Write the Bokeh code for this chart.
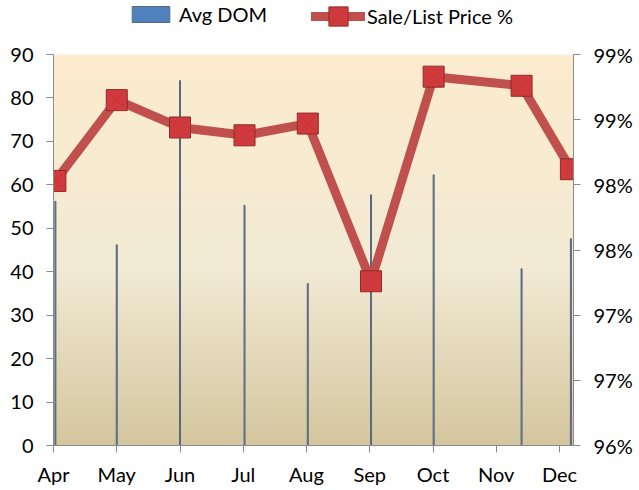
import numpy as np
from bokeh.plotting import figure
from bokeh.models import (Range1d, LinearAxis, FixedTicker, Legend, LegendItem,
                          ColumnDataSource)
from bokeh.embed import file_html
from bokeh.resources import INLINE

# ---- data ----
months = ["Apr", "May", "Jun", "Jul", "Aug", "Sep", "Oct", "Nov", "Dec"]
x_pos = [0.03, 1.0, 2.0, 3.02, 4.02, 5.02, 6.01, 7.4, 8.18]
avg_dom = [56.2, 46.2, 84.0, 55.3, 37.3, 57.7, 62.3, 40.7, 47.6]
sale_list_pct = [98.03, 98.65, 98.44, 98.38, 98.47, 97.26, 98.83, 98.76, 98.12]
left_ticks = [0, 10, 20, 30, 40, 50, 60, 70, 80, 90]
right_ticks = [96.0, 96.5, 97.0, 97.5, 98.0, 98.5, 99.0]
right_labels = ["96%", "97%", "97%", "98%", "98%", "99%", "99%"]

FONT = "Lato"
AX = "#8a8a8a"

FRAME_H = 445.0
PX_PER_UNIT = (445.0 - 54.0) / 90.0
Y_TOP = FRAME_H / PX_PER_UNIT
PCT_TOP = 96 + FRAME_H / ((445.0 - 54.0) / 3.0)

p = figure(width=639, height=490, output_backend="svg", toolbar_location=None,
           title=None,
           x_range=Range1d(0, 8.221), y_range=Range1d(0, Y_TOP),
           min_border_left=53, min_border_right=66, min_border_top=0,
           min_border_bottom=45)
p.outline_line_color = None
p.xgrid.visible = False
p.ygrid.visible = False
p.background_fill_color = "white"
p.border_fill_color = "white"

# background gradient (top peach -> cream -> tan bottom)
n = 200
t = np.linspace(0, 1, n)  # 0 bottom, 1 top
stops_t = [0.0, 0.45, 1.0]
stops_c = [(212, 198, 158), (242, 234, 212), (253, 236, 206)]
rgb = np.stack([np.interp(t, stops_t, [c[i] for c in stops_c]) for i in range(3)], axis=1)
img = np.zeros((n, 1), dtype=np.uint32)
view = img.view(dtype=np.uint8).reshape((n, 1, 4))
view[:, 0, 0] = rgb[:, 0].astype(np.uint8)
view[:, 0, 1] = rgb[:, 1].astype(np.uint8)
view[:, 0, 2] = rgb[:, 2].astype(np.uint8)
view[:, 0, 3] = 255
p.image_rgba(image=[img], x=0, y=0, dw=8.221, dh=90)

src = ColumnDataSource(dict(x=x_pos, dom=avg_dom, pct=sale_list_pct))

bars = p.vbar(x="x", top="dom", bottom=0, width=0.016, source=src,
              fill_color="#4f81bd", line_color="#5a6a7e", line_width=1)

p.extra_y_ranges = {"pct": Range1d(96, PCT_TOP)}
line = p.line("x", "pct", source=src, y_range_name="pct", line_color="#c0504d",
              line_width=9, line_join="round", line_cap="round")
sq = p.scatter("x", "pct", source=src, y_range_name="pct", marker="square",
               size=21, fill_color="#d13a3c", line_color="#8e2a2b", line_width=1)
sqx = p.scatter("x", "pct", source=src, y_range_name="pct", marker="x",
                size=19, line_color="#a02e30", line_alpha=0.3, line_width=1)

def style_axis(ax):
    ax.axis_line_color = AX
    ax.major_tick_line_color = AX
    ax.minor_tick_line_color = None
    ax.major_tick_in = 0
    ax.major_tick_out = 7
    ax.major_label_text_font = FONT
    ax.major_label_text_font_size = "20px"
    ax.major_label_text_color = "#000000"

# left axis
p.yaxis.ticker = FixedTicker(ticks=left_ticks)
p.yaxis.bounds = (0, 90)
style_axis(p.yaxis[0])
p.yaxis.major_label_standoff = 13

# bottom axis
p.xaxis.ticker = FixedTicker(ticks=list(range(len(months))))
p.xaxis.major_label_overrides = {i: m for i, m in enumerate(months)}
style_axis(p.xaxis[0])
p.xaxis.major_label_standoff = 9

# right axis
ra = LinearAxis(y_range_name="pct", ticker=FixedTicker(ticks=right_ticks),
                bounds=(96, 99))
ra.major_label_overrides = {v: l for v, l in zip(right_ticks, right_labels)}
style_axis(ra)
ra.major_label_standoff = 13
p.add_layout(ra, "right")

def style_legend(lg):
    lg.label_text_font = FONT
    lg.label_text_font_size = "20px"
    lg.label_text_color = "#000000"
    lg.label_standoff = 5
    lg.padding = 0
    lg.margin = 0
    lg.border_line_alpha = 0
    lg.background_fill_alpha = 0

leg1 = Legend(items=[LegendItem(label="Avg DOM", renderers=[bars])],
              orientation="horizontal", location=(74, 419))
style_legend(leg1)
leg1.glyph_width = 47
leg1.glyph_height = 20
leg1.label_height = 20

leg2 = Legend(items=[LegendItem(label="Sale/List Price %", renderers=[line, sq, sqx])],
              orientation="horizontal", location=(258, 405))
style_legend(leg2)
leg2.glyph_width = 54
leg2.glyph_height = 48
leg2.label_height = 48
leg2.label_standoff = 2

p.add_layout(leg1, "center")
p.add_layout(leg2, "center")

open("out.html", "w").write(file_html(p, INLINE))
